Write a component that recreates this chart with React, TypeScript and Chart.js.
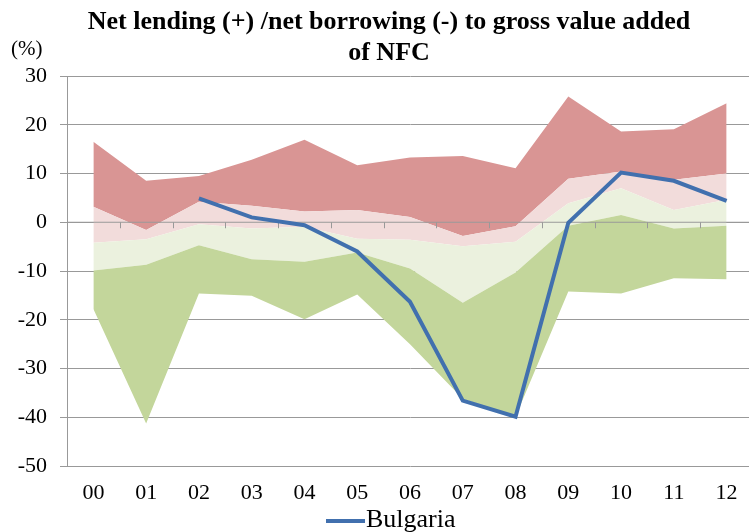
import React, { useEffect, useRef } from "react";
import { Chart, registerables } from "chart.js";

Chart.register(...registerables);

const years = ["00", "01", "02", "03", "04", "05", "06", "07", "08", "09", "10", "11", "12"];
const minVals = [-17.8, -41.3, -14.6, -15.1, -19.9, -14.8, -25.0, -36.2, -39.9, -14.2, -14.6, -11.5, -11.7];
const q1Vals = [-9.9, -8.7, -4.7, -7.6, -8.1, -6.2, -9.5, -16.5, -10.3, -0.7, 1.5, -1.3, -0.7];
const medianVals = [-4.2, -3.5, -0.4, -1.3, -0.9, -3.4, -3.6, -4.9, -4.0, 3.9, 7.0, 2.5, 4.6];
const q3Vals = [3.2, -1.6, 4.2, 3.4, 2.2, 2.5, 1.1, -2.8, -0.8, 8.9, 10.4, 8.7, 10.0];
const maxVals = [16.5, 8.5, 9.5, 12.8, 16.9, 11.7, 13.3, 13.6, 11.1, 25.8, 18.6, 19.1, 24.4];
const bulgaria = [null, null, 4.9, 1.0, -0.6, -6.0, -16.3, -36.6, -39.9, -0.1, 10.2, 8.5, 4.4];

const titleLines = ["Net lending (+) /net borrowing (-) to gross value added", "of NFC"];
const unitLabel = "(%)";
const legendLabel = "Bulgaria";

const LINE_COLOR = "#4170AE";
const GRID_COLOR = "#999999";
const SERIF = "'Liberation Serif', 'Times New Roman', serif";

export default function App() {
  const ref = useRef<HTMLCanvasElement | null>(null);

  useEffect(() => {
    if (!ref.current) return;

    const overlay = {
      id: "overlay",
      beforeDatasetDraw(chart: any, args: any) {
        if (args.index !== 0) return;
        const ctx = chart.ctx;
        const xs = chart.scales.x;
        const ys = chart.scales.y;
        const y0 = ys.getPixelForValue(0);
        const area = chart.chartArea;
        ctx.save();
        ctx.strokeStyle = GRID_COLOR;
        ctx.lineWidth = 1;
        ctx.beginPath();
        ctx.moveTo(area.left, y0);
        ctx.lineTo(area.right, y0);
        for (let i = 1; i < years.length; i++) {
          const xb = (xs.getPixelForValue(i - 1) + xs.getPixelForValue(i)) / 2;
          ctx.moveTo(Math.round(xb) + 0.5, y0);
          ctx.lineTo(Math.round(xb) + 0.5, y0 + 6);
        }
        ctx.stroke();
        ctx.restore();
      },
      afterDraw(chart: any) {
        const ctx = chart.ctx;
        ctx.save();
        ctx.fillStyle = "#000";
        ctx.textAlign = "center";
        ctx.textBaseline = "alphabetic";
        ctx.font = `bold 26px ${SERIF}`;
        ctx.fillText(titleLines[0], 389, 29);
        ctx.fillText(titleLines[1], 389, 60);
        ctx.font = `21px ${SERIF}`;
        ctx.textAlign = "left";
        ctx.textBaseline = "middle";
        ctx.fillText(unitLabel, 11, 49);
        // legend
        ctx.strokeStyle = LINE_COLOR;
        ctx.lineWidth = 4;
        ctx.beginPath();
        ctx.moveTo(326, 521);
        ctx.lineTo(365, 521);
        ctx.stroke();
        ctx.font = `26px ${SERIF}`;
        ctx.fillText(legendLabel, 366, 520);
        ctx.restore();
      },
    };

    const band = (data: number[], color: string | null) => ({
      data,
      borderWidth: 0,
      borderColor: "rgba(0,0,0,0)",
      backgroundColor: color || "rgba(0,0,0,0)",
      pointRadius: 0,
      fill: color ? "-1" : false,
      tension: 0,
    });

    const chart = new Chart(ref.current, {
      type: "line",
      data: {
        labels: years,
        datasets: [
          {
            label: legendLabel,
            data: bulgaria,
            borderColor: LINE_COLOR,
            borderWidth: 4,
            pointRadius: 0,
            fill: false,
            spanGaps: false,
            tension: 0,
          } as any,
          band(minVals, null),
          band(q1Vals, "#C3D69B"),
          band(medianVals, "#EBF1DE"),
          band(q3Vals, "#F2DCDB"),
          band(maxVals, "#D99594"),
        ],
      },
      options: {
        responsive: false,
        devicePixelRatio: 1,
        animation: false,
        layout: { padding: { top: 76, right: 7, bottom: 0, left: 0 } },
        plugins: {
          legend: { display: false },
          title: { display: false },
          tooltip: { enabled: false },
        },
        scales: {
          x: {
            type: "category",
            offset: true,
            grid: { display: false, drawTicks: false },
            border: { display: false },
            ticks: {
              font: { family: SERIF, size: 22 },
              color: "#000",
              padding: 14,
              maxRotation: 0,
              autoSkip: false,
            },
            afterFit: (s: any) => {
              s.height = 66;
            },
          },
          y: {
            min: -50,
            max: 30,
            grid: { color: GRID_COLOR, lineWidth: 1, tickLength: 7, drawTicks: true },
            border: { display: true, color: GRID_COLOR, width: 1 },
            ticks: {
              stepSize: 10,
              font: { family: SERIF, size: 22 },
              color: "#000",
              padding: 13,
            },
            afterFit: (s: any) => {
              s.width = 67;
            },
          },
        },
      },
      plugins: [overlay],
    });

    return () => chart.destroy();
  }, []);

  return (
    <div
      style={{
        position: "absolute",
        left: 0,
        top: 0,
        width: 749,
        height: 532,
        overflow: "hidden",
        background: "#fff",
      }}
    >
      <canvas ref={ref} width={760} height={532} style={{ width: 760, height: 532 }} />
    </div>
  );
}
